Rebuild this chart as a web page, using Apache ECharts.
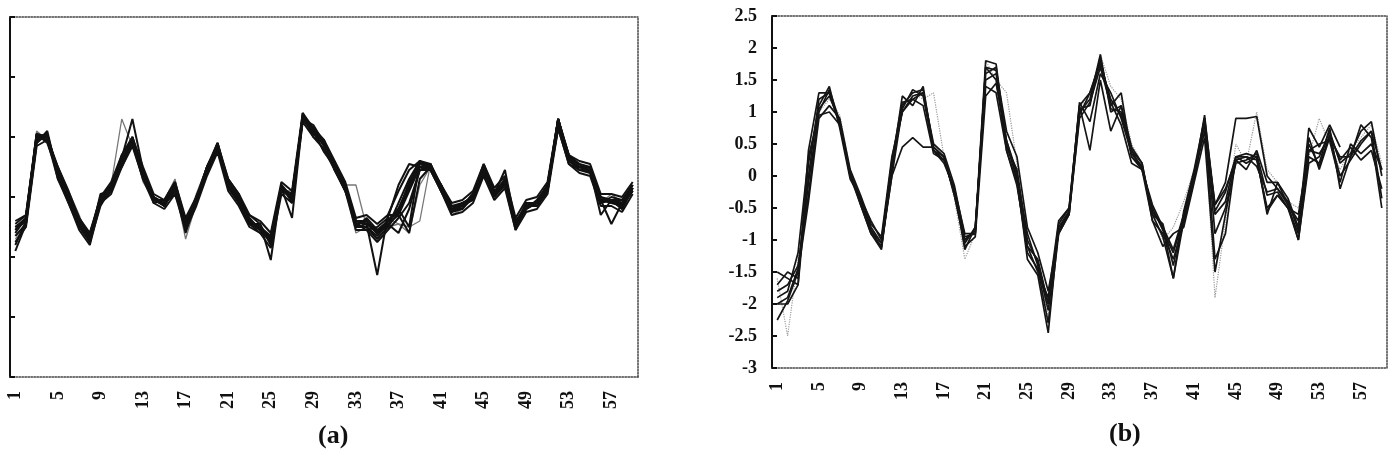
<!DOCTYPE html>
<html><head><meta charset="utf-8">
<script src="https://cdn.jsdelivr.net/npm/echarts@6/dist/echarts.min.js"></script>
<style>html,body{margin:0;padding:0;background:#fff}#c{width:1390px;height:455px}</style>
</head><body><div id="c"></div>
<script>
const categories = ['1','2','3','4','5','6','7','8','9','10','11','12','13','14','15','16','17','18','19','20','21','22','23','24','25','26','27','28','29','30','31','32','33','34','35','36','37','38','39','40','41','42','43','44','45','46','47','48','49','50','51','52','53','54','55','56','57','58','59'];
const captionA = '(a)';
const captionB = '(b)';

// Panel (a) profiles
const a1 = [-0.5,-0.35,1.05,1.0,0.45,0.0,-0.4,-0.7,-0.05,0.15,0.6,0.95,0.4,-0.05,-0.1,0.1,-0.45,-0.05,0.45,0.9,0.2,-0.05,-0.4,-0.5,-0.75,0.15,0.0,1.35,1.1,0.9,0.5,0.15,-0.45,-0.4,-0.6,-0.4,-0.2,0.2,0.55,0.55,0.15,-0.2,-0.15,0.0,0.45,0.05,0.25,-0.45,-0.15,-0.1,0.15,1.3,0.65,0.5,0.45,-0.05,-0.05,-0.1,0.15];
const a2 = [-0.65,-0.45,0.9,1.1,0.35,-0.1,-0.5,-0.75,0.0,0.2,0.55,1.0,0.35,0.0,-0.15,0.2,-0.5,0.0,0.4,0.8,0.25,0.0,-0.35,-0.55,-0.65,0.1,0.05,1.3,1.15,0.85,0.55,0.2,-0.5,-0.5,-0.7,-0.5,-0.1,0.3,0.6,0.45,0.1,-0.25,-0.2,0.05,0.5,0.0,0.3,-0.5,-0.1,-0.15,0.1,1.2,0.7,0.45,0.5,0.0,-0.1,-0.15,0.1];
const a3 = [-0.45,-0.3,1.0,0.95,0.5,0.05,-0.35,-0.65,-0.1,0.1,0.65,1.3,0.45,-0.1,-0.05,0.1,-0.4,-0.1,0.5,0.85,0.15,-0.1,-0.45,-0.45,-1.05,0.2,-0.1,1.4,1.05,0.95,0.45,0.1,-0.4,-0.45,-1.3,-0.3,-0.3,0.1,0.5,0.5,0.2,-0.15,-0.1,-0.05,0.4,0.1,0.2,-0.4,-0.2,-0.05,0.2,1.3,0.6,0.55,0.4,-0.1,0.0,-0.05,0.2];
const a4 = [-0.8,-0.4,0.95,1.05,0.3,0.0,-0.45,-0.7,0.05,0.1,0.6,0.9,0.3,0.0,-0.15,0.15,-0.55,0.0,0.4,0.85,0.3,0.05,-0.4,-0.55,-0.7,0.1,0.05,1.3,1.2,0.9,0.5,0.2,-0.5,-0.35,-0.55,-0.5,-0.25,0.25,0.55,0.5,0.1,-0.2,-0.2,0.0,0.45,0.05,0.3,-0.5,-0.2,-0.1,0.15,1.25,0.65,0.5,0.5,-0.05,-0.1,-0.1,0.1];
const a5 = [-0.5,-0.4,1.05,0.9,0.4,-0.05,-0.5,-0.6,-0.05,0.2,0.6,0.95,0.45,-0.05,-0.05,0.25,-0.4,-0.05,0.45,0.8,0.2,-0.1,-0.3,-0.45,-0.8,0.2,-0.05,1.35,1.0,0.9,0.45,0.15,-0.45,-0.55,-0.5,-0.35,0.2,0.55,0.5,0.45,0.2,-0.15,-0.15,0.05,0.55,0.1,0.25,-0.45,-0.1,-0.1,0.2,1.15,0.55,0.45,0.4,0.0,-0.05,-0.05,0.2];
const a6 = [-0.6,-0.35,1.0,1.0,0.45,0.05,-0.4,-0.75,-0.15,0.15,0.7,0.95,0.35,-0.05,-0.1,0.15,-0.5,-0.1,0.45,0.9,0.25,0.0,-0.45,-0.6,-0.65,0.15,0.0,1.3,1.1,0.85,0.5,0.1,-0.4,-0.4,-0.6,-0.45,-0.6,-0.2,0.45,0.55,0.15,-0.25,-0.15,-0.05,0.45,0.0,0.2,-0.4,-0.15,-0.15,0.1,1.3,0.7,0.5,0.5,-0.1,-0.05,-0.2,0.15];
const a7 = [-0.55,-0.35,1.0,1.05,0.4,0.0,-0.45,-0.7,-0.05,0.15,0.5,0.9,0.4,0.0,-0.1,0.1,-0.45,-0.05,0.5,0.85,0.2,-0.05,-0.4,-0.5,-0.7,0.15,-0.35,1.3,1.1,0.75,0.5,0.15,-0.45,-0.4,-0.6,-0.4,-0.2,-0.5,0.6,0.5,0.15,-0.2,-0.1,0.0,0.45,0.05,0.25,-0.5,-0.15,-0.1,0.15,1.3,0.6,0.5,0.45,-0.05,-0.05,-0.1,0.15];
const a8 = [-0.5,-0.4,0.95,1.0,0.45,0.05,-0.5,-0.65,0.0,0.15,0.6,0.95,0.45,0.0,-0.1,0.05,-0.45,-0.05,0.4,0.8,0.2,-0.05,-0.4,-0.5,-0.7,0.15,0.05,1.35,1.05,0.9,0.55,0.2,-0.5,-0.45,-0.6,-0.4,-0.25,0.15,0.5,0.55,0.1,-0.2,-0.15,0.0,0.4,0.05,0.45,-0.45,-0.2,-0.1,0.2,1.3,0.65,0.5,0.45,-0.3,-0.05,-0.15,0.1];
const a9 = [-0.9,-0.45,0.9,1.05,0.35,-0.05,-0.4,-0.7,-0.05,0.1,0.6,1.0,0.4,-0.05,-0.15,0.15,-0.6,-0.05,0.45,0.85,0.2,-0.05,-0.45,-0.55,-0.75,0.1,0.0,1.3,1.15,0.9,0.5,0.15,-0.5,-0.5,-0.65,-0.45,-0.3,-0.6,0.3,0.5,0.15,-0.25,-0.1,0.0,0.5,0.05,0.2,-0.55,-0.1,-0.15,0.1,1.25,0.7,0.55,0.5,-0.05,-0.05,-0.2,0.15];
const a10 = [-0.55,-0.4,1.0,0.95,0.4,0.0,-0.45,-0.7,-0.05,0.15,0.6,0.9,0.4,-0.05,-0.1,0.2,-0.4,-0.05,0.5,0.85,0.2,-0.05,-0.4,-0.5,-0.65,0.2,0.0,1.3,1.1,0.9,0.5,0.2,-0.4,-0.45,-0.55,-0.4,-0.2,0.2,0.6,0.5,0.2,-0.2,-0.15,0.05,0.45,0.05,0.3,-0.45,-0.15,-0.1,0.15,1.2,0.6,0.45,0.45,-0.05,-0.45,-0.1,0.2];
const a11 = [-0.6,-0.3,1.1,0.95,0.5,0.1,-0.3,-0.8,0.0,0.2,1.3,0.85,0.3,-0.1,-0.05,0.3,-0.5,0.05,0.5,0.8,0.25,0.0,-0.35,-0.55,-0.7,0.1,0.1,1.25,1.1,0.95,0.45,0.2,0.2,-0.5,-0.7,-0.5,-0.45,-0.6,0.2,0.5,0.1,-0.3,-0.2,0.1,0.35,0.0,0.3,-0.4,-0.2,-0.05,0.1,1.1,0.6,0.55,0.4,-0.1,0.05,-0.1,0.2];
const a12 = [-0.7,-0.5,0.95,1.0,0.4,0.0,-0.5,-0.75,-0.1,0.1,0.55,0.95,0.25,-0.05,-0.15,0.15,-0.7,-0.1,0.4,0.9,0.15,-0.1,-0.45,-0.5,-0.8,0.1,-0.05,1.35,1.0,0.9,0.55,0.15,-0.6,-0.5,-0.65,-0.35,-0.45,-0.5,-0.4,0.55,0.15,-0.2,-0.1,0.0,0.5,0.1,0.3,-0.5,-0.1,-0.1,0.15,1.25,0.7,0.5,0.4,0.0,-0.1,-0.05,0.1];
const a13 = [-0.4,-0.3,1.05,1.0,0.5,0.1,-0.35,-0.6,0.0,0.25,0.7,1.0,0.5,0.05,-0.05,0.25,-0.35,0.0,0.5,0.9,0.3,0.05,-0.3,-0.4,-0.6,0.25,0.1,1.4,1.15,0.95,0.6,0.25,-0.35,-0.3,-0.45,-0.3,0.1,0.45,0.6,0.55,0.2,-0.1,-0.05,0.1,0.55,0.15,0.35,-0.35,-0.05,0.0,0.25,1.3,0.7,0.6,0.55,0.05,0.05,0.0,0.25];
const a14 = [-0.75,-0.5,0.85,0.95,0.3,-0.1,-0.55,-0.8,-0.1,0.05,0.5,0.85,0.3,-0.1,-0.2,0.05,-0.55,-0.15,0.35,0.75,0.1,-0.15,-0.5,-0.6,-0.85,0.05,-0.1,1.25,1.0,0.8,0.45,0.1,-0.55,-0.55,-0.75,-0.55,-0.35,-0.1,0.45,0.45,0.1,-0.3,-0.25,-0.1,0.35,-0.05,0.15,-0.55,-0.25,-0.2,0.05,1.15,0.55,0.4,0.35,-0.15,-0.15,-0.25,0.05];

// Panel (b) profiles
const b1 = [-2.0,-1.9,-1.45,-0.1,1.0,1.35,0.85,0.0,-0.4,-0.85,-1.12,0.1,1.1,1.3,1.35,0.45,0.3,-0.25,-1.0,-0.85,1.8,1.75,0.5,-0.05,-1.3,-1.55,-2.45,-0.8,-0.55,1.0,1.2,1.9,1.0,1.1,0.3,0.15,-0.6,-0.95,-1.6,-0.7,0.0,0.95,-0.55,-0.25,0.3,0.2,0.3,-0.6,-0.1,-0.45,-1.0,0.3,0.2,0.75,-0.2,0.3,0.8,0.6,-0.5];
const b2 = [-1.5,-1.6,-1.7,0.0,1.2,1.3,0.8,0.05,-0.35,-0.8,-1.05,0.25,1.15,1.2,1.3,0.4,0.25,-0.2,-0.9,-0.9,1.7,1.5,0.45,0.1,-1.0,-1.35,-2.0,-0.75,-0.5,1.1,1.3,1.75,1.2,0.95,0.4,0.1,-0.5,-0.85,-1.2,-0.65,0.05,0.8,-0.45,-0.1,0.9,0.9,0.93,0.0,-0.2,-0.4,-0.85,0.6,0.1,0.6,0.0,0.25,0.5,0.7,0.1];
const b3 = [-1.9,-1.8,-1.2,0.3,0.95,1.0,0.8,0.05,-0.45,-0.9,-1.1,0.0,0.45,0.6,0.45,0.45,0.3,-0.3,-1.05,-0.8,1.4,1.3,0.4,-0.15,-1.1,-1.5,-1.9,-0.7,-0.5,1.1,0.4,1.5,0.7,1.1,0.45,0.2,-0.7,-1.1,-0.9,-0.8,-0.1,0.6,-1.5,-0.6,0.25,0.3,0.25,-0.5,-0.3,-0.5,-0.6,0.4,0.5,0.55,-0.1,0.5,0.35,0.5,0.1];
const b4 = [-2.25,-1.95,-1.5,-0.4,0.9,1.1,0.9,0.1,-0.3,-0.75,-0.95,0.3,1.0,1.2,1.1,0.35,0.25,-0.25,-1.1,-0.95,1.25,1.45,0.55,0.0,-0.9,-1.4,-2.1,-0.85,-0.6,1.15,0.85,1.6,1.3,0.9,0.35,0.15,-0.55,-0.8,-1.15,-0.6,0.0,0.7,-0.6,-0.4,0.3,0.3,0.15,-0.25,-0.2,-0.45,-0.7,0.5,0.15,0.65,0.25,0.45,0.25,0.4,-0.2];
const b5 = [-1.7,-1.5,-1.6,0.2,1.1,1.4,0.75,-0.05,-0.35,-0.7,-1.0,0.2,1.0,1.25,1.3,0.5,0.35,-0.15,-0.95,-0.9,1.7,1.65,0.7,0.3,-0.8,-1.2,-1.8,-0.9,-0.6,0.9,1.15,1.7,1.1,1.3,0.3,0.1,-0.45,-0.8,-1.6,-0.55,0.1,0.9,-0.45,-0.2,0.25,0.1,0.4,-0.1,-0.1,-0.35,-0.8,0.75,0.45,0.8,0.45,null,null,null,null];
const b6 = [-1.6,-2.5,-1.3,-0.2,1.0,1.2,0.95,0.1,-0.4,-0.8,-1.05,0.2,1.1,1.3,1.2,1.3,0.3,-0.35,-1.3,-0.9,1.8,1.5,1.3,0.2,-1.0,-1.4,-2.2,-0.8,-0.5,1.1,1.2,1.9,1.4,1.2,0.5,0.2,-0.6,-1.0,-0.8,-0.4,0.1,0.8,-1.9,-0.7,0.5,0.2,1.0,0.1,-0.1,-0.4,-0.5,0.3,0.9,0.5,0.1,0.4,0.6,0.8,0.2];
const b7 = [-2.0,-2.0,-1.7,0.4,1.3,1.3,0.8,0.0,-0.45,-0.9,-1.15,0.15,1.25,1.1,1.4,0.4,0.3,-0.3,-1.0,-0.85,1.6,1.7,0.4,-0.1,-1.2,-1.45,-2.3,-0.9,-0.6,0.95,1.3,1.8,1.15,0.8,0.2,0.1,-0.7,-0.9,-1.3,-0.75,-0.05,0.85,-1.3,-0.9,0.3,0.35,0.3,-0.55,-0.3,-0.5,-1.0,0.2,0.3,0.7,0.2,0.35,0.7,0.85,0.0];
const b8 = [-1.8,-1.7,-1.4,-0.3,1.05,1.25,0.85,0.05,-0.4,-0.85,-1.05,0.0,1.05,1.35,1.25,0.4,0.2,-0.2,-1.15,-0.8,1.5,1.6,0.55,0.05,-1.1,-1.3,-2.0,-0.85,-0.55,1.05,1.1,1.85,1.05,1.0,0.4,0.2,-0.6,-0.75,-1.4,-0.6,0.0,0.9,-0.9,-0.5,0.2,0.25,0.35,-0.3,-0.25,-0.5,-0.9,0.4,0.35,0.6,0.3,0.3,0.55,0.7,-0.35];

const greyA = [a11, a12];
const darkA = [a1,a2,a3,a4,a5,a6,a7,a8,a9,a10,a13,a14];
const greyB = [b6];
const darkB = [b1,b2,b3,b4,b5,b7,b8];

const serif = '"Liberation Serif", "DejaVu Serif", serif';
const labelStyle = {fontFamily: serif, fontWeight: 'bold', fontSize: 18, color: '#111'};

function mkSeries(arr, xi, yi, color, width, type, z) {
  return arr.map(d => ({
    type: 'line', data: d, xAxisIndex: xi, yAxisIndex: yi, symbol: 'none',
    silent: true, z: z, connectNulls: false,
    lineStyle: {color: color, width: width, type: type}
  }));
}

function xAxes(grid) {
  return [
    {type: 'category', gridIndex: grid, data: categories, boundaryGap: true, position: 'bottom',
     axisLine: {onZero: false, lineStyle: {color: '#444', width: 1.5, type: 'dotted'}},
     axisTick: {show: false},
     axisLabel: Object.assign({rotate: 90, interval: 3, margin: 14}, labelStyle)},
    {type: 'category', gridIndex: grid, data: categories, boundaryGap: true, position: 'top',
     axisLine: {onZero: false, lineStyle: {color: '#444', width: 1.5, type: 'dotted'}},
     axisTick: {show: false}, axisLabel: {show: false}}
  ];
}

function yAxes(grid, min, max, interval, showLabels) {
  return [
    {type: 'value', gridIndex: grid, min: min, max: max, interval: interval, position: 'left',
     axisLine: {show: true, onZero: false, lineStyle: {color: '#111', width: 2}},
     axisTick: {show: true, inside: true, length: 5, lineStyle: {color: '#111', width: 2}},
     splitLine: {show: false},
     axisLabel: Object.assign({show: showLabels, margin: 15}, labelStyle)},
    {type: 'value', gridIndex: grid, min: min, max: max, interval: interval, position: 'right',
     axisLine: {show: true, onZero: false, lineStyle: {color: '#444', width: 1.5, type: 'dotted'}},
     axisTick: {show: false}, splitLine: {show: false}, axisLabel: {show: false}}
  ];
}

const chart = echarts.init(document.getElementById('c'), null, {renderer: 'canvas'});
chart.setOption({
  animation: false,
  backgroundColor: '#fff',
  grid: [
    {left: 10, top: 17, width: 628, height: 360},
    {left: 772, top: 16, width: 615, height: 352}
  ],
  xAxis: xAxes(0).concat(xAxes(1)),
  yAxis: yAxes(0, -3, 3, 1, false).concat(yAxes(1, -3, 2.5, 0.5, true)),
  graphic: [
    {type: 'text', left: 318, top: 423, style: {text: captionA, font: 'bold 26px "Liberation Serif", serif', fill: '#111'}},
    {type: 'text', left: 1109, top: 421, style: {text: captionB, font: 'bold 26px "Liberation Serif", serif', fill: '#111'}}
  ],
  series: [].concat(
    mkSeries(greyA, 0, 0, '#777', 1.3, 'solid', 2),
    mkSeries(darkA, 0, 0, '#111', 2, 'solid', 3),
    mkSeries(greyB, 2, 2, '#999', 1.2, 'dotted', 2),
    mkSeries(darkB, 2, 2, '#151515', 1.7, 'solid', 3)
  )
});
</script>
</body></html>
